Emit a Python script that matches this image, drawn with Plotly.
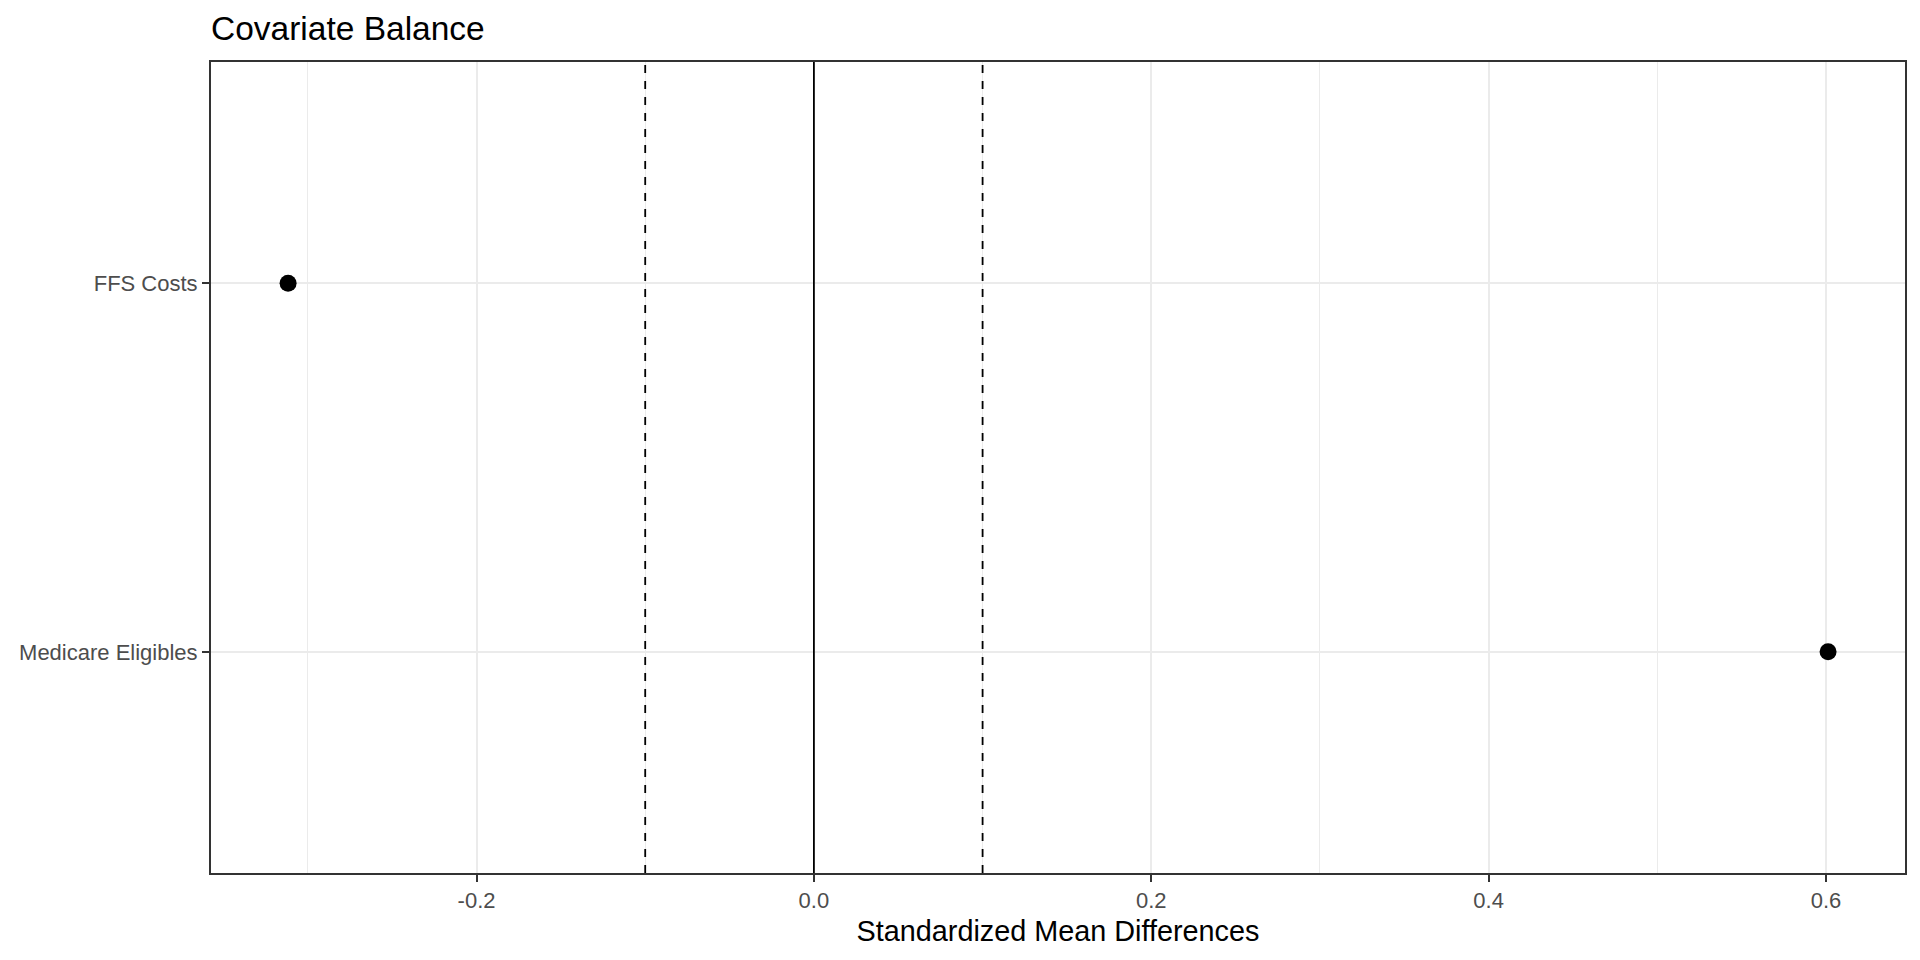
import plotly.graph_objects as go

covariates = ["Medicare Eligibles", "FFS Costs"]
smd = [0.6012, -0.3117]
threshold = 0.1
x_tickvals = [-0.2, 0.0, 0.2, 0.4, 0.6]
x_ticktext = ["-0.2", "0.0", "0.2", "0.4", "0.6"]
minor_grid = [-0.3, -0.1, 0.1, 0.3, 0.5]

W, H = 1912, 952  # page body has an 8px margin

fig = go.Figure()

fig.add_trace(go.Scatter(
    x=smd, y=covariates, mode="markers",
    marker=dict(color="black", size=17, line=dict(width=0)),
    showlegend=False, hoverinfo="x+y",
))

# reference lines
fig.add_vline(x=0, line=dict(color="black", width=1.8))
for v in (-threshold, threshold):
    fig.add_vline(x=v, line=dict(color="black", width=1.8, dash="8px,8px"))

grid = "#EBEBEB"
border = "#333333"
fig.update_layout(
    width=W, height=H,
    paper_bgcolor="white", plot_bgcolor="white",
    margin=dict(l=203, r=15, t=54, b=87, autoexpand=False),
    font=dict(family="Liberation Sans, Arial, sans-serif", color="#4D4D4D"),
    title=dict(
        text="Covariate Balance", font=dict(size=33.5, color="black"),
        x=203 / W, xanchor="left", xref="container",
        y=1 - 20.5 / H, yanchor="middle", yref="container",
    ),
    xaxis=dict(
        range=[-0.3574, 0.6468],
        tickvals=x_tickvals, ticktext=x_ticktext,
        tickfont=dict(size=22, color="#4D4D4D"),
        ticks="outside", ticklen=7, tickwidth=2, tickcolor=border,
        showgrid=True, gridcolor=grid, gridwidth=2,
        minor=dict(tickvals=minor_grid, showgrid=True,
                   gridcolor=grid, gridwidth=1, ticks=""),
        zeroline=False,
        showline=True, linecolor=border, linewidth=2, mirror=True,
        title=dict(text="Standardized Mean Differences",
                   font=dict(size=28.8, color="black"), standoff=8),
    ),
    yaxis=dict(
        type="category", categoryorder="array", categoryarray=covariates,
        range=[-0.6, 1.6],
        tickfont=dict(size=22, color="#4D4D4D"),
        ticks="outside", ticklen=7, tickwidth=2, tickcolor=border,
        showgrid=True, gridcolor=grid, gridwidth=2,
        zeroline=False,
        showline=True, linecolor=border, linewidth=2, mirror=True,
    ),
)

fig.write_html("out.html")
